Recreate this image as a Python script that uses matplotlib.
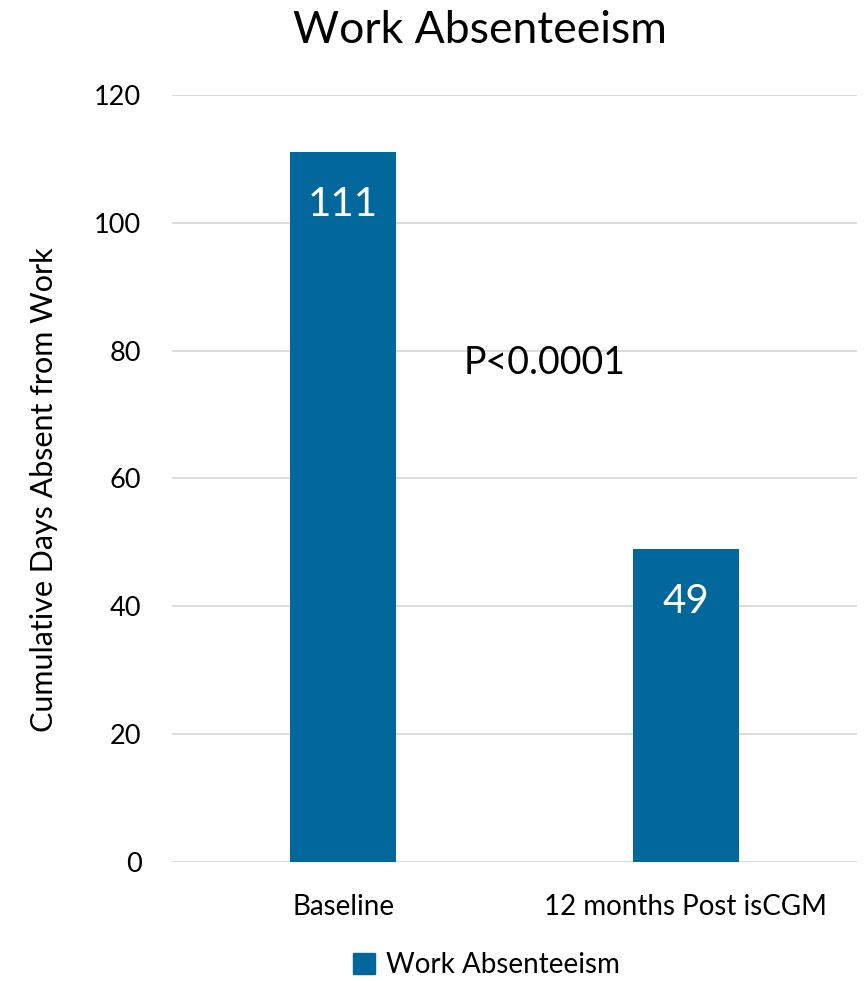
import matplotlib
matplotlib.use("Agg")
import matplotlib.pyplot as plt
from matplotlib.patches import Patch

plt.rcParams['font.family'] = ['Lato', 'DejaVu Sans']

categories = ["Baseline", "12 months Post isCGM"]
values = [111, 49]
series_name = "Work Absenteeism"
yticks = [0, 20, 40, 60, 80, 100, 120]
bar_color = "#02679A"

fig = plt.figure(figsize=(8.64, 9.81), dpi=100)
ax = fig.add_axes([0.199, 0.1213, 0.793, 0.7819])

x = list(range(len(categories)))
ax.bar(x, values, width=0.31, color=bar_color, zorder=3)
ax.set_xlim(-0.5, len(categories) - 0.5)
ax.set_ylim(0, 120)
ax.set_yticks(yticks)
ax.set_xticks(x)
ax.set_xticklabels(categories, fontsize=20)
ax.tick_params(axis='y', labelsize=19.5, length=0, pad=22)
ax.tick_params(axis='x', length=0, pad=23)
ax.grid(axis='y', color='#D9D9D9', linewidth=1.3, zorder=0)
for s in ax.spines.values():
    s.set_visible(False)

for xi, v in zip(x, values):
    ax.text(xi, v - 5.3, str(v), ha='center', va='top', color='white',
            fontsize=29)

ax.text(0.589, 78, "P<0.0001", ha='center', va='center',
        fontsize=27, color='black')

ax.set_ylabel("Cumulative Days Absent from Work", fontsize=22)
ax.yaxis.set_label_coords(-0.166, 0.485)
fig.text(0.555, 0.969, series_name, ha='center', va='center', fontsize=32)

fig.legend(handles=[Patch(color=bar_color, label=series_name)],
           loc='center', bbox_to_anchor=(0.563, 0.016), frameon=False,
           fontsize=20, handlelength=0.8, handleheight=0.8, handletextpad=0.4)

fig.savefig("out.png", dpi=100)
